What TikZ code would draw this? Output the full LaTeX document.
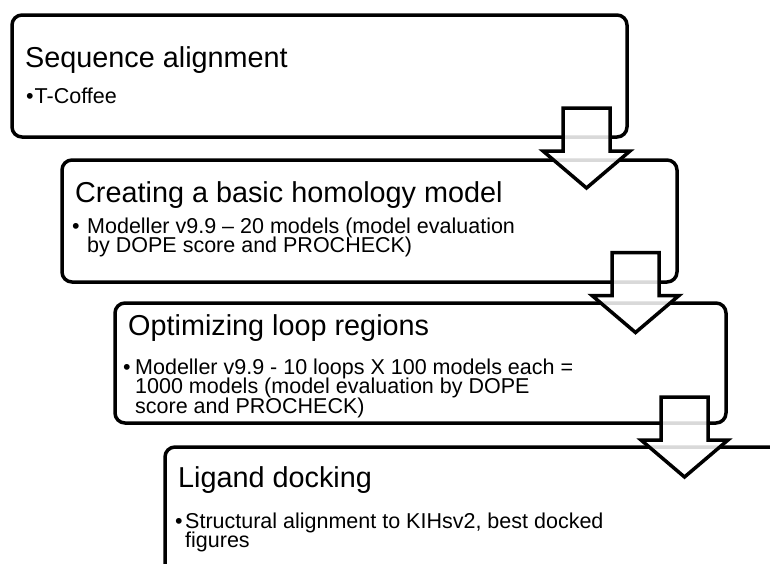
\documentclass[tikz,border=0pt]{standalone}
\usepackage{fontspec}
\setmainfont{Liberation Sans}
\newcommand{\bulletmark}[1]{\makebox[#1][l]{•}}
\newcommand{\itemlines}[1]{\vtop{\baselineskip=19.7pt\lineskiplimit=-30pt\relax #1}}
\begin{document}
\begin{tikzpicture}[x=1pt, y=-1pt, line join=round, line cap=round,
	stepbox/.style={line width=3.5pt, rounded corners=10pt},
	flowarrow/.style={line width=3.5pt, line join=miter, fill=white, fill opacity=0.85},
	steptitle/.style={anchor=base west, inner sep=0pt, font=\fontsize{28.8}{34}\selectfont},
	stepitem/.style={anchor=base west, inner sep=0pt, font=\fontsize{21.5}{19.7}\selectfont}]
			\useasboundingbox (0,0) rectangle (770,563);
			\clip (0,0) rectangle (770,563);
			% boxes
			\draw[stepbox] (12,15) rectangle (627,137);
			\draw[stepbox] (62,160) rectangle (677,282);
			\draw[stepbox] (115,303) rectangle (726,423);
			\draw[stepbox] (800,447) -- (165,447) -- (165,600);
			% texts
			\node[steptitle] (t1) at (25,67) {Sequence alignment};
			\node[stepitem] (b1) at (26,103) {\itemlines{\hbox{\bulletmark{8.5pt}T-Coffee}}};
			\node[steptitle] (t2) at (75,202) {Creating a basic homology model};
			\node[stepitem] (b2) at (72,233) {\itemlines{\hbox{\bulletmark{15pt}Modeller v9.9 – 20 models (model evaluation}
				\hbox{\hspace{15pt}by DOPE score and PROCHECK)}}};
			\node[steptitle] (t3) at (128,335) {Optimizing loop regions};
			\node[stepitem] (b3) at (123,374) {\itemlines{\hbox{\bulletmark{12pt}Modeller v9.9 - 10 loops X 100 models each =}
				\hbox{\hspace{12pt}1000 models (model evaluation by DOPE}
				\hbox{\hspace{12pt}score and PROCHECK)}}};
			\node[steptitle] (t4) at (178,487) {Ligand docking};
			\node[stepitem] (b4) at (175,528) {\itemlines{\hbox{\bulletmark{10pt}Structural alignment to KIHsv2, best docked}
				\hbox{\hspace{10pt}figures}}};
			% arrows
			\foreach \i in {0,1,2} {
				\begin{scope}[shift={(49*\i,144.5*\i)}]
				\draw[flowarrow] (563,108) -- (610,108) -- (610,151) -- (630,151) -- (586.5,188) -- (543,151) -- (563,151) -- cycle;
				\end{scope}
			}
	\end{tikzpicture}
\end{document}
